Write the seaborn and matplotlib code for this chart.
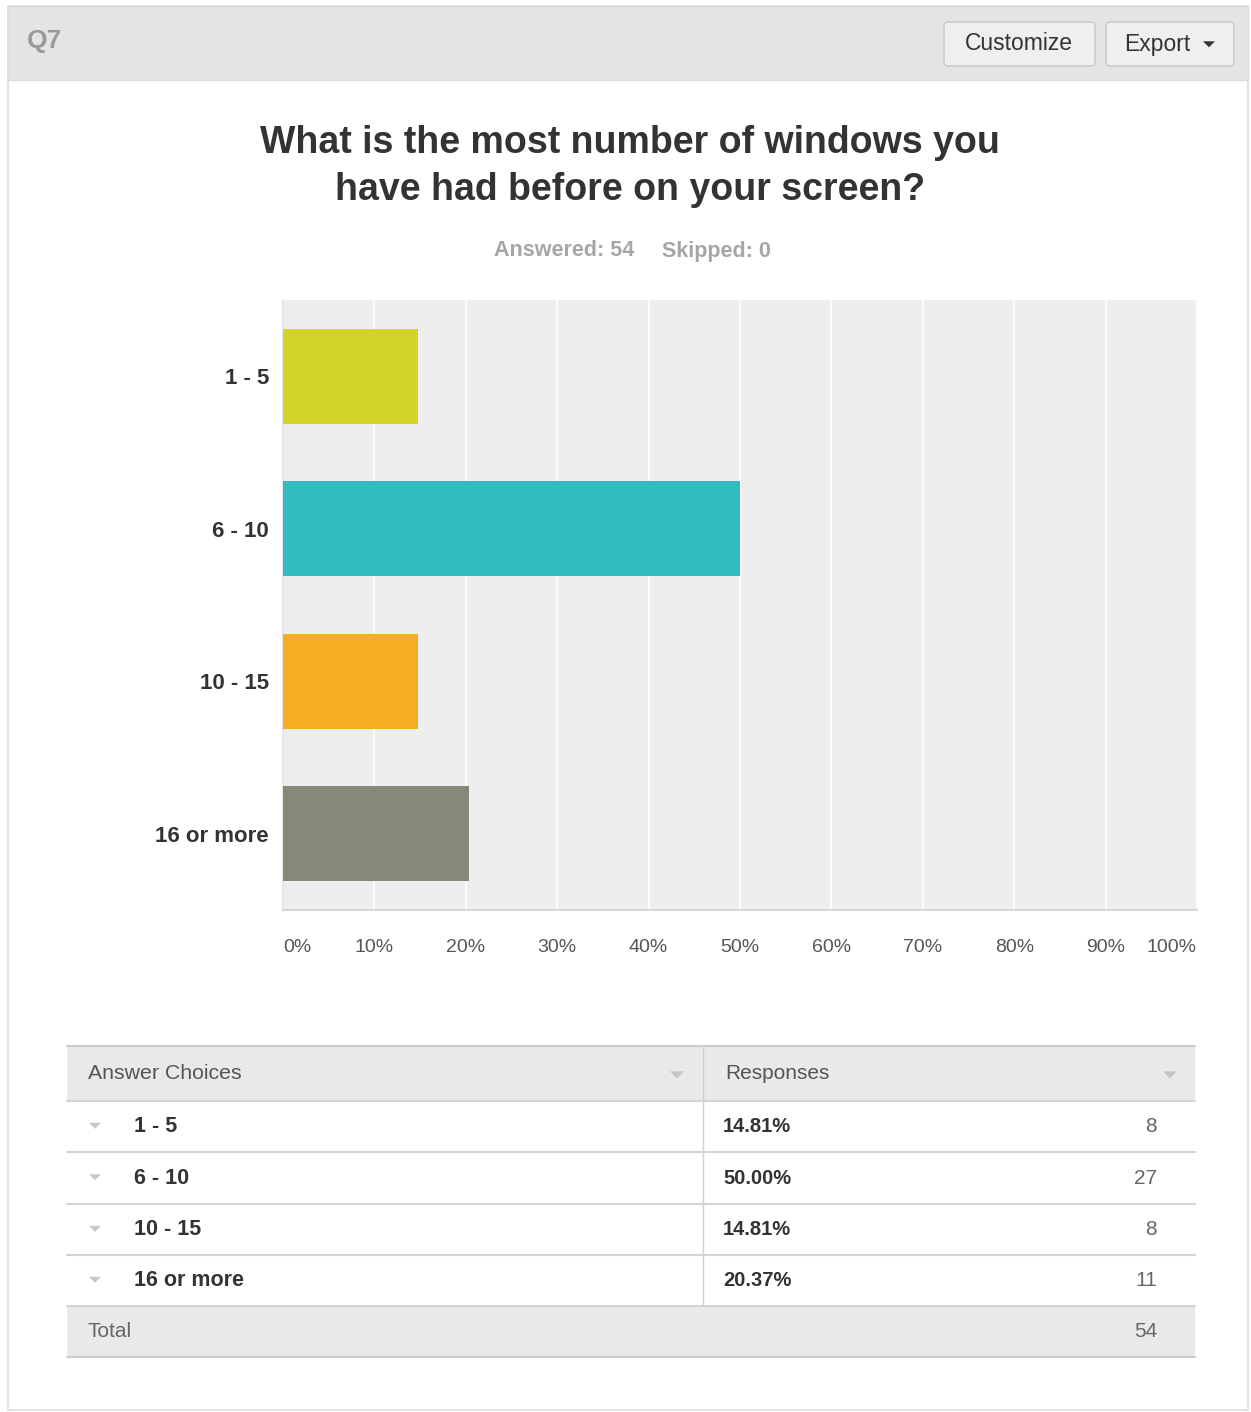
import matplotlib
matplotlib.use("Agg")
import matplotlib.pyplot as plt
from matplotlib.patches import Rectangle, FancyBboxPatch, Polygon
import seaborn as sns
import pandas as pd

# Survey data
categories = ["1 - 5", "6 - 10", "10 - 15", "16 or more"]
percents = [14.81, 50.00, 14.81, 20.37]
counts = [8, 27, 8, 11]
answered = 54
skipped = 0
tick_values = [0, 10, 20, 30, 40, 50, 60, 70, 80, 90, 100]
tick_labels = ["0%", "10%", "20%", "30%", "40%", "50%", "60%", "70%", "80%", "90%", "100%"]
bar_colors = ["#d2d42a", "#33bcc0", "#f5ae20", "#878877"]

W, H = 1251, 1412
sns.set_theme(style="white")
plt.rcParams["font.family"] = ["Liberation Sans", "DejaVu Sans"]

fig = plt.figure(figsize=(W / 100, H / 100), dpi=100)
fig.patch.set_facecolor("white")


def fx(x):
    return x / W


def fy(y):
    return 1 - y / H


def rect(x0, y0, x1, y1, **kw):
    fig.add_artist(Rectangle((fx(x0), fy(y1)), fx(x1) - fx(x0), fy(y0) - fy(y1),
                             transform=fig.transFigure, **kw))


def hline(x0, x1, y, color, lw=1.0):
    fig.add_artist(plt.Line2D([fx(x0), fx(x1)], [fy(y), fy(y)], transform=fig.transFigure,
                              color=color, lw=lw))


def vline(x, y0, y1, color, lw=1.0):
    fig.add_artist(plt.Line2D([fx(x), fx(x)], [fy(y0), fy(y1)], transform=fig.transFigure,
                              color=color, lw=lw))


def tri(cx, cy, size, color):
    pts = [(fx(cx - size), fy(cy - size * 0.45)), (fx(cx + size), fy(cy - size * 0.45)),
           (fx(cx), fy(cy + size * 0.55))]
    fig.add_artist(Polygon(pts, closed=True, transform=fig.transFigure, facecolor=color,
                           edgecolor="none"))


# Panel frame and header band (kept behind the chart axes)
rect(8, 6, 1248, 1410, facecolor="white", edgecolor="#dddddd", lw=1.2, zorder=-5)
rect(8, 6, 1248, 80, facecolor="#e4e4e4", edgecolor="#dcdcdc", lw=1.0, zorder=-4)
fig.text(fx(27), fy(41), "Q7", fontsize=19, fontweight="bold", color="#9a9a9a",
         ha="left", va="center")

# Header buttons
for (x0, x1) in [(944, 1095), (1106, 1234)]:
    fig.add_artist(FancyBboxPatch((fx(x0), fy(66)), fx(x1) - fx(x0), fy(22) - fy(66),
                                  boxstyle="round,pad=0,rounding_size=0.003",
                                  transform=fig.transFigure, facecolor="#efefef",
                                  edgecolor="#c6c6c6", lw=1.0))
fig.text(fx(1019), fy(44), "Customize", fontsize=16.5, color="#333333", ha="center",
         va="center")
fig.text(fx(1124), fy(44), "Export", fontsize=16.5, color="#333333", ha="left", va="center")
tri(1209, 44, 6, "#333333")

# Title and subtitle
fig.text(fx(630), fy(143), "What is the most number of windows you", fontsize=27,
         fontweight="bold", color="#333333", ha="center", va="center")
fig.text(fx(630), fy(190), "have had before on your screen?", fontsize=27,
         fontweight="bold", color="#333333", ha="center", va="center")
fig.text(fx(564), fy(251), "Answered: %d" % answered, fontsize=15.5, fontweight="bold",
         color="#a6a6a6", ha="center", va="center")
fig.text(fx(716), fy(251), "Skipped: %d" % skipped, fontsize=15.5, fontweight="bold",
         color="#a6a6a6", ha="center", va="center")

# Bar chart
ax = fig.add_axes([fx(283), fy(910), fx(1197) - fx(283), fy(300) - fy(910)])
ax.set_zorder(2)
df = pd.DataFrame({"choice": categories, "percent": percents})
sns.barplot(data=df, y="choice", x="percent", hue="choice", palette=bar_colors,
            order=categories, hue_order=categories, legend=False, width=0.62,
            saturation=1, linewidth=0, ax=ax, zorder=3)
ax.set_facecolor("#eeeeee")
ax.set_xlim(0, 100)
ax.set_ylim(3.5, -0.5)
ax.set_xticks(tick_values)
ax.set_xticklabels(tick_labels)
ax.set_xlabel("")
ax.set_ylabel("")
ax.grid(axis="x", color="white", lw=1.1, zorder=1)
ax.set_axisbelow(True)
for side in ("top", "right"):
    ax.spines[side].set_visible(False)
ax.spines["left"].set_color("#e2e2e2")
ax.spines["left"].set_linewidth(1.2)
ax.spines["bottom"].set_color("#d6d6d6")
ax.spines["bottom"].set_linewidth(1.4)
ax.tick_params(axis="x", length=0, pad=21, labelsize=14, labelcolor="#555555")
ax.tick_params(axis="y", length=0, pad=10, labelsize=16, labelcolor="#333333")
for lbl in ax.get_yticklabels():
    lbl.set_fontweight("bold")
xl = ax.get_xticklabels()
xl[0].set_ha("left")
xl[-1].set_ha("right")

# Response table
tx0, tx1, tdiv = 67, 1195, 703
row_edges = [1046, 1101, 1152, 1204, 1255, 1306, 1357]
rect(tx0, row_edges[0], tx1, row_edges[1], facecolor="#e9e9e9", edgecolor="none")
rect(tx0, row_edges[5], tx1, row_edges[6], facecolor="#e9e9e9", edgecolor="none")
hline(tx0, tx1, row_edges[0], "#cccccc", 1.5)
for y in row_edges[1:6]:
    hline(tx0, tx1, y, "#d4d4d4", 1.5)
hline(tx0, tx1, row_edges[6], "#cccccc", 1.5)
vline(tdiv, row_edges[0], row_edges[5], "#cfcfcf", 1.0)

hy = (row_edges[0] + row_edges[1]) / 2
fig.text(fx(88), fy(hy), "Answer Choices", fontsize=15.3, color="#555555", ha="left",
         va="center")
fig.text(fx(725), fy(hy), "Responses", fontsize=15, color="#555555", ha="left", va="center")
tri(677, hy + 1, 7, "#c4c4c4")
tri(1170, hy + 1, 7, "#c4c4c4")

for i, (cat, pct, n) in enumerate(zip(categories, percents, counts)):
    cy = (row_edges[i + 1] + row_edges[i + 2]) / 2
    tri(95, cy - 1, 6, "#c8c8c8")
    fig.text(fx(134), fy(cy), cat, fontsize=15.5, fontweight="bold", color="#333333",
             ha="left", va="center")
    fig.text(fx(723), fy(cy), "%.2f%%" % pct, fontsize=14.5, fontweight="bold",
             color="#333333", ha="left", va="center")
    fig.text(fx(1157), fy(cy), str(n), fontsize=15, color="#666666", ha="right", va="center")

ty = (row_edges[5] + row_edges[6]) / 2
fig.text(fx(87), fy(ty), "Total", fontsize=15, color="#666666", ha="left", va="center")
fig.text(fx(1157), fy(ty), str(sum(counts)), fontsize=15, color="#666666", ha="right",
         va="center")

fig.savefig("out.png", dpi=100, facecolor="white")
